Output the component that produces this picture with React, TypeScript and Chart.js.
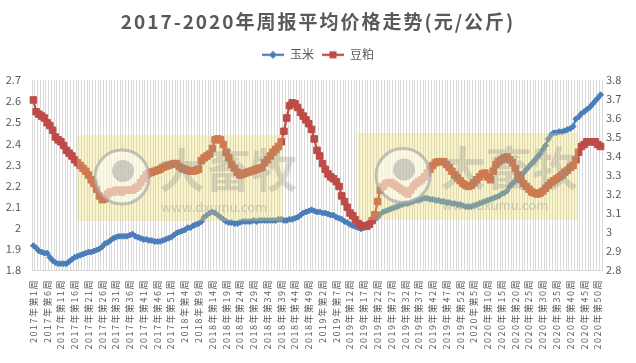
import React, { useEffect, useRef } from 'react';
import { Chart, registerables } from 'chart.js';

Chart.register(...registerables);

// ---- data ----
const YEARS = [2017, 2018, 2019, 2020];
const WEEKS_PER_YEAR = [52, 52, 52, 51];

// 玉米 (left axis, 元/公斤)
const CORN = [
  1.915, 1.905, 1.89, 1.885, 1.88, 1.88, 1.86, 1.845, 1.835, 1.83,
  1.83, 1.83, 1.83, 1.84, 1.85, 1.86, 1.865, 1.87, 1.875, 1.88,
  1.885, 1.885, 1.89, 1.895, 1.9, 1.91, 1.925, 1.93, 1.94, 1.95,
  1.955, 1.96, 1.96, 1.96, 1.96, 1.965, 1.97, 1.96, 1.955, 1.95,
  1.945, 1.945, 1.94, 1.94, 1.935, 1.935, 1.935, 1.94, 1.945, 1.95,
  1.955, 1.965, 1.975, 1.98, 1.985, 1.99, 2.0, 2.0, 2.01, 2.015,
  2.02, 2.03, 2.05, 2.06, 2.07, 2.075, 2.07, 2.06, 2.05, 2.04,
  2.03, 2.025, 2.025, 2.02, 2.02, 2.025, 2.03, 2.03, 2.03, 2.03,
  2.035, 2.03, 2.035, 2.035, 2.035, 2.035, 2.035, 2.035, 2.035, 2.04,
  2.04, 2.035, 2.035, 2.04, 2.04, 2.045, 2.05, 2.06, 2.07, 2.075,
  2.08, 2.085, 2.08, 2.075, 2.075, 2.07, 2.07, 2.065, 2.06, 2.06,
  2.05, 2.045, 2.04, 2.03, 2.025, 2.015, 2.01, 2.005, 2.0, 1.995,
  2.0, 2.01, 2.02, 2.03, 2.04, 2.05, 2.065, 2.075, 2.08, 2.085,
  2.09, 2.095, 2.1, 2.105, 2.11, 2.115, 2.115, 2.12, 2.125, 2.13,
  2.13, 2.135, 2.14, 2.14, 2.135, 2.135, 2.13, 2.13, 2.125, 2.125,
  2.12, 2.12, 2.115, 2.115, 2.11, 2.11, 2.105, 2.1, 2.1, 2.1,
  2.105, 2.11, 2.115, 2.12, 2.125, 2.13, 2.135, 2.14, 2.145, 2.15,
  2.16, 2.165, 2.175, 2.195, 2.21, 2.22, 2.235, 2.25, 2.26, 2.275,
  2.29, 2.305, 2.32, 2.335, 2.35, 2.37, 2.39, 2.42, 2.44, 2.45,
  2.45, 2.455, 2.455, 2.46, 2.465, 2.47, 2.48, 2.515, 2.525, 2.54,
  2.55, 2.56, 2.57, 2.585, 2.6, 2.615, 2.63,
];

// 豆粕 (right axis, 元/公斤)
const MEAL = [
  3.695, 3.633, 3.62, 3.61, 3.6, 3.575, 3.56, 3.535, 3.5, 3.485,
  3.475, 3.455, 3.43, 3.415, 3.4, 3.38, 3.365, 3.35, 3.335, 3.32,
  3.3, 3.275, 3.255, 3.225, 3.19, 3.17, 3.175, 3.2, 3.21, 3.21,
  3.22, 3.22, 3.21, 3.22, 3.22, 3.22, 3.22, 3.23, 3.24, 3.26,
  3.28, 3.3, 3.31, 3.315, 3.32, 3.325, 3.33, 3.34, 3.345, 3.35,
  3.355, 3.36, 3.36, 3.345, 3.335, 3.33, 3.325, 3.32, 3.32, 3.325,
  3.33, 3.375, 3.39, 3.4, 3.41, 3.44, 3.485, 3.49, 3.485, 3.46,
  3.42, 3.39, 3.355, 3.335, 3.315, 3.3, 3.305, 3.31, 3.315, 3.32,
  3.325, 3.33, 3.335, 3.34, 3.365, 3.38, 3.4, 3.42, 3.435, 3.45,
  3.475, 3.53, 3.6, 3.665, 3.68, 3.675, 3.655, 3.63, 3.61, 3.59,
  3.57, 3.54, 3.49, 3.43, 3.4, 3.36, 3.33, 3.305, 3.29, 3.28,
  3.265, 3.24, 3.19, 3.16, 3.13, 3.1, 3.085, 3.065, 3.045, 3.035,
  3.03, 3.03, 3.04, 3.06, 3.09, 3.16, 3.22, 3.24, 3.255, 3.26,
  3.26, 3.25, 3.24, 3.23, 3.22, 3.21, 3.2, 3.22, 3.24, 3.255,
  3.265, 3.275, 3.29, 3.31, 3.33, 3.35, 3.365, 3.37, 3.37, 3.37,
  3.355, 3.34, 3.32, 3.3, 3.285, 3.27, 3.255, 3.245, 3.24, 3.245,
  3.26, 3.275, 3.29, 3.305, 3.31, 3.29, 3.275, 3.32, 3.355, 3.37,
  3.38, 3.39, 3.395, 3.38, 3.365, 3.335, 3.3, 3.275, 3.255, 3.24,
  3.225, 3.21, 3.205, 3.2, 3.205, 3.215, 3.23, 3.245, 3.26, 3.27,
  3.28, 3.29, 3.3, 3.315, 3.325, 3.34, 3.35, 3.38, 3.42, 3.45,
  3.46, 3.475, 3.475, 3.475, 3.475, 3.46, 3.45,
];

const LEFT_AXIS = [1.8, 2.7];
const RIGHT_AXIS = [2.8, 3.8];
const AXIS_STEP = 0.1;
const LABEL_EVERY = 5;

const TITLE = '2017-2020年周报平均价格走势(元/公斤)';
const SERIES_NAMES = ['玉米', '豆粕'];

const weekLabels: string[] = [];
YEARS.forEach((y, k) => {
  for (let w = 1; w <= WEEKS_PER_YEAR[k]; w++) weekLabels.push(`${y}年第${w}周`);
});

const BLUE = '#4A7EBB';
const RED = '#BE4B48';
const TEXT = '#595959';
const GRID = '#D9D9D9';
const CJK = '"Noto Sans CJK SC", "Noto Sans", sans-serif';

function makeIcon(color: string, diamond: boolean) {
  const c = document.createElement('canvas');
  c.width = 22;
  c.height = 10;
  const g = c.getContext('2d')!;
  g.strokeStyle = color;
  g.lineWidth = 2.25;
  g.beginPath();
  g.moveTo(0, 5);
  g.lineTo(22, 5);
  g.stroke();
  g.fillStyle = color;
  if (diamond) {
    g.beginPath();
    g.moveTo(11, 1);
    g.lineTo(15, 5);
    g.lineTo(11, 9);
    g.lineTo(7, 5);
    g.closePath();
    g.fill();
  } else {
    g.fillRect(7.5, 1.5, 7, 7);
  }
  return c;
}

const watermarkPlugin = {
  id: 'watermark',
  afterDatasetsDraw(chart: any) {
    const { ctx, chartArea } = chart;
    const W = chartArea.right - chartArea.left;
    const H = chartArea.bottom - chartArea.top;
    const boxes = [
      [0.079, 0.29, 0.44, 0.742],
      [0.572, 0.279, 0.958, 0.737],
    ];
    ctx.save();
    boxes.forEach(([fx0, fy0, fx1, fy1]) => {
      const x0 = chartArea.left + fx0 * W;
      const y0 = chartArea.top + fy0 * H;
      const x1 = chartArea.left + fx1 * W;
      const y1 = chartArea.top + fy1 * H;
      ctx.fillStyle = 'rgba(240, 222, 100, 0.33)';
      ctx.fillRect(x0, y0, x1 - x0, y1 - y0);
      const cx = x0 + 45;
      const cy = (y0 + y1) / 2 - 1;
      ctx.beginPath();
      ctx.arc(cx, cy, 27, 0, Math.PI * 2);
      ctx.fillStyle = 'rgba(255,255,255,0.5)';
      ctx.fill();
      ctx.lineWidth = 3;
      ctx.strokeStyle = 'rgba(165,165,165,0.65)';
      ctx.stroke();
      ctx.beginPath();
      ctx.arc(cx + 1, cy - 6, 11, 0, Math.PI * 2);
      ctx.fillStyle = 'rgba(140,140,140,0.4)';
      ctx.fill();
      ctx.fillStyle = 'rgba(140,140,140,0.3)';
      ctx.font = `bold 46px ${CJK}`;
      ctx.textAlign = 'left';
      ctx.textBaseline = 'middle';
      ctx.fillText('大畜牧', x0 + 82, cy - 8);
      ctx.font = `13px ${CJK}`;
      ctx.fillStyle = 'rgba(140,140,140,0.4)';
      ctx.fillText('www.dxumu.com', x0 + 84, cy + 30);
    });
    ctx.restore();
  },
};

export default function App() {
  const ref = useRef<HTMLCanvasElement | null>(null);

  useEffect(() => {
    document.body.style.margin = '0';
    const canvas = ref.current!;
    const ctx = canvas.getContext('2d')! as any;
    const origFill = ctx.fillText.bind(ctx);
    ctx.fillText = (text: string, x: number, y: number, maxWidth?: number) => {
      const f: string = ctx.font;
      let sp = '0px';
      if (/bold/.test(f) && /19px/.test(f)) sp = '2px';
      else if (/^9px/.test(f)) sp = '1.5px';
      ctx.letterSpacing = sp;
      if (maxWidth === undefined) origFill(text, x, y);
      else origFill(text, x, y, maxWidth);
      ctx.letterSpacing = '0px';
    };

    const icons = [makeIcon(BLUE, true), makeIcon(RED, false)];
    const fmt = (v: any) => String(Number(Number(v).toFixed(1)));

    const chart = new Chart(canvas, {
      type: 'line',
      data: {
        labels: weekLabels,
        datasets: [
          {
            label: SERIES_NAMES[0],
            data: CORN,
            yAxisID: 'y',
            borderColor: BLUE,
            backgroundColor: BLUE,
            borderWidth: 2.25,
            pointStyle: 'rectRot',
            pointRadius: 3,
            pointBorderWidth: 1,
            pointBackgroundColor: BLUE,
            pointBorderColor: BLUE,
            tension: 0,
            order: 1,
          },
          {
            label: SERIES_NAMES[1],
            data: MEAL,
            yAxisID: 'y1',
            borderColor: RED,
            backgroundColor: RED,
            borderWidth: 2.25,
            pointStyle: 'rect',
            pointRadius: 4.6,
            pointBorderWidth: 1,
            pointBackgroundColor: RED,
            pointBorderColor: RED,
            tension: 0,
            order: 0,
          },
        ],
      },
      options: {
        responsive: true,
        maintainAspectRatio: false,
        animation: false,
        devicePixelRatio: 1,
        layout: { padding: 0 },
        plugins: {
          title: {
            display: true,
            text: TITLE,
            color: TEXT,
            font: { family: CJK, size: 19, weight: 'bold' },
            padding: { top: 10, bottom: 8 },
          },
          legend: {
            display: true,
            position: 'top',
            weight: 1800,
            labels: {
              usePointStyle: true,
              pointStyleWidth: 22,
              color: TEXT,
              padding: 8,
              font: { family: CJK, size: 12 },
              generateLabels: (c: any) =>
                c.data.datasets.map((ds: any, i: number) => ({
                  text: ds.label,
                  pointStyle: icons[i],
                  fillStyle: ds.borderColor,
                  strokeStyle: ds.borderColor,
                  lineWidth: 0,
                  hidden: false,
                  datasetIndex: i,
                  fontColor: TEXT,
                })),
            },
          },
          subtitle: {
            display: true,
            text: '',
            font: { size: 1 },
            padding: { top: 0, bottom: 8 },
          },
          tooltip: { enabled: false },
        },
        scales: {
          x: {
            type: 'category',
            offset: true,
            grid: { display: true, offset: true, color: GRID, lineWidth: 1, drawTicks: false },
            border: { display: true, color: GRID, width: 1 },
            ticks: {
              autoSkip: false,
              minRotation: 90,
              maxRotation: 90,
              padding: 9,
              color: TEXT,
              font: { family: CJK, size: 9 },
              callback: (_v: any, i: number) => (i % LABEL_EVERY === 0 ? weekLabels[i] : ''),
            },
            afterFit: (s: any) => {
              s.height = 93;
            },
          },
          y: {
            position: 'left',
            min: LEFT_AXIS[0],
            max: LEFT_AXIS[1],
            grid: { display: false, drawTicks: false },
            border: { display: false },
            ticks: {
              stepSize: AXIS_STEP,
              padding: 11,
              color: TEXT,
              font: { family: CJK, size: 11 },
              callback: fmt,
            },
            afterFit: (s: any) => {
              s.width = 32;
            },
          },
          y1: {
            position: 'right',
            min: RIGHT_AXIS[0],
            max: RIGHT_AXIS[1],
            grid: { display: false, drawTicks: false },
            border: { display: false },
            ticks: {
              stepSize: AXIS_STEP,
              padding: 4,
              color: TEXT,
              font: { family: CJK, size: 11 },
              callback: fmt,
            },
            afterFit: (s: any) => {
              s.width = 34;
            },
          },
        },
      },
      plugins: [watermarkPlugin],
    } as any);

    return () => chart.destroy();
  }, []);

  return (
    <div style={{ position: 'relative', width: 636, height: 363, background: '#fff' }}>
      <canvas ref={ref} />
    </div>
  );
}
